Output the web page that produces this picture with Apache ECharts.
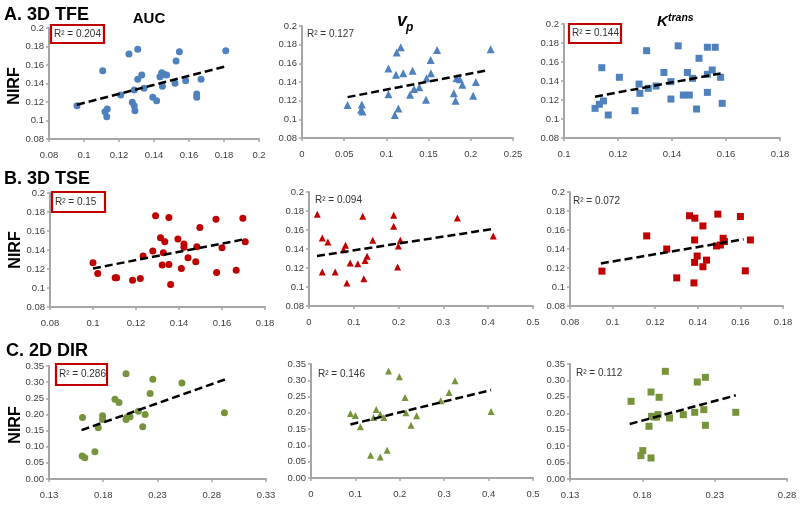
<!DOCTYPE html>
<html>
<head>
<meta charset="utf-8">
<script src="https://cdn.jsdelivr.net/npm/echarts@6/dist/echarts.min.js"></script>
<style>
html,body{margin:0;padding:0;background:#fff;}
#chart{width:800px;height:506px;}
</style>
</head>
<body>
<div id="chart"></div>
<script>
// ---------- Data ----------
// Row A: 3D TFE (NIRF vs AUC, vp, Ktrans)
const tfeAUC = [[0.096,0.116],[0.1107,0.1538],[0.112,0.1095],[0.1133,0.1124],[0.113,0.1041],[0.121,0.1276],[0.1257,0.1719],[0.1307,0.177],[0.1276,0.1196],[0.1287,0.116],[0.1291,0.1106],[0.1287,0.133],[0.1307,0.1445],[0.133,0.1492],[0.1343,0.1348],[0.1393,0.1251],[0.1415,0.1214],[0.1434,0.1474],[0.1444,0.1517],[0.1457,0.15],[0.1472,0.1492],[0.1448,0.137],[0.152,0.1402],[0.1526,0.1643],[0.1545,0.1744],[0.1581,0.143],[0.1669,0.1445],[0.1644,0.1287],[0.1644,0.1251],[0.181,0.1755]];
const tfeVp = [[0.0539,0.1153],[0.0709,0.116],[0.070,0.1103],[0.0717,0.1085],[0.1024,0.1544],[0.1024,0.127],[0.1114,0.1477],[0.1122,0.1715],[0.117,0.1772],[0.110,0.1046],[0.1142,0.1117],[0.120,0.1495],[0.128,0.1263],[0.131,0.152],[0.1327,0.1324],[0.139,0.1345],[0.1469,0.121],[0.1476,0.1441],[0.1524,0.1637],[0.1528,0.1494],[0.160,0.1744],[0.1799,0.128],[0.1819,0.120],[0.1831,0.1441],[0.187,0.143],[0.190,0.137],[0.2028,0.1253],[0.206,0.140],[0.2236,0.175]];
const tfeKtrans = [[0.1115,0.1112],[0.1131,0.1155],[0.1146,0.119],[0.114,0.154],[0.1164,0.1042],[0.1205,0.1439],[0.1263,0.1087],[0.1278,0.1368],[0.1281,0.127],[0.1306,0.1719],[0.1312,0.1323],[0.1341,0.1347],[0.137,0.149],[0.1396,0.1393],[0.1396,0.121],[0.1423,0.177],[0.1442,0.1252],[0.1457,0.149],[0.1464,0.1252],[0.1476,0.1428],[0.1491,0.1105],[0.150,0.1639],[0.1531,0.128],[0.1531,0.147],[0.1531,0.1755],[0.1549,0.1516],[0.156,0.1755],[0.158,0.1439],[0.1586,0.1165]];
// Row B: 3D TSE
const tseAUC = [[0.1,0.1266],[0.1022,0.1153],[0.1103,0.1107],[0.111,0.1107],[0.1184,0.1082],[0.122,0.110],[0.1233,0.1336],[0.1278,0.139],[0.1291,0.176],[0.1314,0.153],[0.1322,0.1241],[0.1327,0.1372],[0.1334,0.1488],[0.1353,0.1742],[0.1353,0.1248],[0.1361,0.1037],[0.1395,0.1517],[0.1411,0.1206],[0.1423,0.1464],[0.1423,0.1428],[0.1442,0.1319],[0.1478,0.1277],[0.1483,0.1435],[0.1497,0.1636],[0.1572,0.1725],[0.1575,0.1164],[0.16,0.1425],[0.1666,0.1188],[0.1697,0.1735],[0.1708,0.1488]];
const tseVp = [[0.0185,0.1765],[0.0296,0.1516],[0.0296,0.1158],[0.0422,0.1474],[0.0585,0.1158],[0.077,0.1393],[0.0815,0.1439],[0.0845,0.1042],[0.0919,0.1253],[0.1089,0.1246],[0.12,0.1744],[0.1223,0.1088],[0.1252,0.128],[0.1297,0.1323],[0.1423,0.1491],[0.189,0.1754],[0.189,0.1639],[0.1978,0.121],[0.1993,0.1432],[0.2038,0.1491],[0.3312,0.1726],[0.4113,0.1537]];
const tseKtrans = [[0.095,0.1167],[0.116,0.1538],[0.1254,0.14],[0.1301,0.1096],[0.1361,0.175],[0.1386,0.1725],[0.1385,0.1495],[0.1385,0.1259],[0.1382,0.1043],[0.1397,0.1326],[0.1424,0.1643],[0.1424,0.1213],[0.1441,0.1283],[0.1494,0.1767],[0.1488,0.1432],[0.1506,0.1442],[0.1519,0.1513],[0.1525,0.1478],[0.16,0.1742],[0.1623,0.117],[0.1647,0.1495]];
// Row C: 2D DIR
const dirAUC = [[0.1609,0.1905],[0.1606,0.071],[0.163,0.066],[0.1723,0.0845],[0.1754,0.1586],[0.1794,0.1956],[0.1794,0.1843],[0.1908,0.247],[0.1945,0.2368],[0.201,0.3263],[0.2016,0.1905],[0.201,0.1843],[0.2047,0.1926],[0.2124,0.21],[0.2164,0.1617],[0.2186,0.1998],[0.2232,0.2646],[0.2257,0.3088],[0.2525,0.2975],[0.2917,0.2049]];
const dirVp = [[0.0888,0.1981],[0.1,0.192],[0.1112,0.1571],[0.1343,0.0699],[0.141,0.1858],[0.1469,0.2105],[0.1559,0.0648],[0.1715,0.0853],[0.1559,0.196],[0.1641,0.1858],[0.1745,0.3285],[0.1991,0.311],[0.2118,0.2474],[0.214,0.2002],[0.2252,0.1622],[0.2379,0.191],[0.2923,0.2371],[0.3109,0.2628],[0.3243,0.2987],[0.4055,0.2043]];
const dirKtrans = [[0.1722,0.2364],[0.179,0.0711],[0.1803,0.0864],[0.186,0.064],[0.1846,0.1604],[0.186,0.2648],[0.1864,0.1908],[0.1882,0.1888],[0.1898,0.1888],[0.1909,0.1959],[0.1916,0.2486],[0.1959,0.3277],[0.1988,0.1857],[0.2083,0.1959],[0.2162,0.203],[0.218,0.2952],[0.2225,0.2111],[0.2236,0.3094],[0.2236,0.1634],[0.2446,0.203]];

// Trend lines (end points)
const trendTfeAUC = [[0.096,0.117],[0.181,0.1585]];
const trendTfeVp = [[0.054,0.1238],[0.2185,0.1523]];
const trendTfeKtrans = [[0.1115,0.1235],[0.158,0.148]];
const trendTseAUC = [[0.1,0.1206],[0.171,0.1516]];
const trendTseVp = [[0.0178,0.1326],[0.415,0.1614]];
const trendTseKtrans = [[0.0945,0.1248],[0.1615,0.1502]];
const trendDirAUC = [[0.16,0.1514],[0.2926,0.3088]];
const trendDirVp = [[0.0888,0.1643],[0.4055,0.27]];
const trendDirKtrans = [[0.1713,0.1675],[0.2446,0.2547]];

// R² values
const r2Values = ['0.204','0.127','0.144','0.15','0.094','0.072','0.286','0.146','0.112'];

// Tick labels
const xTicksTfeAUC = [0.08,0.1,0.12,0.14,0.16,0.18,0.2];
const xTicksTfeVp = [0,0.05,0.1,0.15,0.2,0.25];
const xTicksTfeKtrans = [0.1,0.12,0.14,0.16,0.18];
const xTicksTseAUC = [0.08,0.1,0.12,0.14,0.16,0.18];
const xTicksTseVp = [0,0.1,0.2,0.3,0.4,0.5];
const xTicksTseKtrans = [0.08,0.1,0.12,0.14,0.16,0.18];
const xTicksDirAUC = [0.13,0.18,0.23,0.28,0.33];
const xTicksDirVp = [0,0.1,0.2,0.3,0.4,0.5];
const xTicksDirKtrans = [0.13,0.18,0.23,0.28];
const yTicksAB = [0.08,0.1,0.12,0.14,0.16,0.18,0.2];
const yTicksC = [0,0.05,0.1,0.15,0.2,0.25,0.3,0.35];

// ---------- Styling / layout ----------
const BLUE = '#4f81bd', RED = '#c00000', GREEN = '#77933c';
const AXIS_COLOR = '#a6a6a6', LABEL_COLOR = '#404040';
const FONT = '"Liberation Sans", Arial, sans-serif';

const panels = [
  {data: tfeAUC, trend: trendTfeAUC, xt: xTicksTfeAUC, yt: yTicksAB, sym:'circle', size:7, color:BLUE, yFix:false, xFix:false, grid:{left:49,top:28,width:210,height:111}, r2:{x:51,y:25,w:53,h:18,box:true}},
  {data: tfeVp, trend: trendTfeVp, xt: xTicksTfeVp, yt: yTicksAB, sym:'triangle', size:8, color:BLUE, yFix:false, xFix:false, grid:{left:302,top:26,width:211,height:112}, r2:{x:304,y:25,w:53,h:18,box:false}},
  {data: tfeKtrans, trend: trendTfeKtrans, xt: xTicksTfeKtrans, yt: yTicksAB, sym:'rect', size:7, color:BLUE, yFix:false, xFix:false, grid:{left:564,top:24,width:216,height:114}, r2:{x:569,y:24,w:52,h:19,box:true}},
  {data: tseAUC, trend: trendTseAUC, xt: xTicksTseAUC, yt: yTicksAB, sym:'circle', size:7, color:RED, yFix:false, xFix:false, grid:{left:50,top:193,width:215,height:114}, r2:{x:52,y:192,w:53,h:20,box:true}},
  {data: tseVp, trend: trendTseVp, xt: xTicksTseVp, yt: yTicksAB, sym:'triangle', size:7, color:RED, yFix:false, xFix:false, grid:{left:309,top:192,width:224,height:114}, r2:{x:312,y:191,w:53,h:19,box:false}},
  {data: tseKtrans, trend: trendTseKtrans, xt: xTicksTseKtrans, yt: yTicksAB, sym:'rect', size:7, color:RED, yFix:false, xFix:false, grid:{left:570,top:192,width:213,height:114}, r2:{x:570,y:192,w:53,h:19,box:false}},
  {data: dirAUC, trend: trendDirAUC, xt: xTicksDirAUC, yt: yTicksC, sym:'circle', size:7, color:GREEN, yFix:true, xFix:true, grid:{left:49,top:366,width:217,height:113}, r2:{x:56,y:364,w:51,h:21,box:true}},
  {data: dirVp, trend: trendDirVp, xt: xTicksDirVp, yt: yTicksC, sym:'triangle', size:7, color:GREEN, yFix:true, xFix:false, grid:{left:311,top:364,width:222,height:114}, r2:{x:315,y:364,w:53,h:20,box:false}},
  {data: dirKtrans, trend: trendDirKtrans, xt: xTicksDirKtrans, yt: yTicksC, sym:'rect', size:7, color:GREEN, yFix:true, xFix:true, grid:{left:570,top:364,width:217,height:115}, r2:{x:573,y:363,w:53,h:20,box:false}}
];

function fmtDefault(v){ return String(+v.toFixed(4)); }
function fmtFixed(v){ return v.toFixed(2); }

const grids = [], xAxes = [], yAxes = [], series = [], graphics = [];
panels.forEach((p, i) => {
  grids.push(Object.assign({containLabel:false}, p.grid));
  xAxes.push({
    type:'value', gridIndex:i, min:p.xt[0], max:p.xt[p.xt.length-1],
    axisLine:{show:true, onZero:false, lineStyle:{color:AXIS_COLOR, width:2}},
    axisTick:{show:true, inside:false, length:3, customValues:p.xt, lineStyle:{color:AXIS_COLOR, width:1.5}},
    axisLabel:{customValues:p.xt, margin:11, fontSize:9.5, fontFamily:FONT, color:LABEL_COLOR,
      formatter: p.xFix ? fmtFixed : fmtDefault},
    splitLine:{show:false}
  });
  yAxes.push({
    type:'value', gridIndex:i, min:p.yt[0], max:p.yt[p.yt.length-1],
    axisLine:{show:true, onZero:false, lineStyle:{color:AXIS_COLOR, width:2}},
    axisTick:{show:true, inside:false, length:3, customValues:p.yt, lineStyle:{color:AXIS_COLOR, width:1.5}},
    axisLabel:{customValues:p.yt, margin:5, fontSize:9.5, fontFamily:FONT, color:LABEL_COLOR,
      formatter: p.yFix ? fmtFixed : fmtDefault},
    splitLine:{show:false}
  });
  series.push({
    type:'scatter', xAxisIndex:i, yAxisIndex:i, data:p.data,
    symbol:p.sym, symbolSize:p.size, itemStyle:{color:p.color, opacity:1}, z:2
  });
  series.push({
    type:'line', xAxisIndex:i, yAxisIndex:i, data:p.trend, showSymbol:false, symbol:'none',
    lineStyle:{color:'#000', width:2.5, type:[8,4]}, z:3, silent:true
  });
  // R² label
  const r = p.r2;
  if (r.box) {
    graphics.push({type:'rect', shape:{x:r.x, y:r.y, width:r.w, height:r.h},
      style:{fill:'#fff', stroke:'#c00000', lineWidth:2.2}, z:10});
  }
  graphics.push({type:'text', x:r.x + 3, y:r.y + r.h/2, z:11,
    style:{text:'R\u00b2 = ' + r2Values[i], font:'10px ' + FONT, fill:'#333',
      textAlign:'left', textVerticalAlign:'middle'}});
});

// Row titles, column titles, axis names
const boldFont = (s) => 'bold ' + s + 'px ' + FONT;
graphics.push(
  {type:'text', x:4, y:15, style:{text:'A. 3D TFE', font:boldFont(18), fill:'#000', textVerticalAlign:'middle'}},
  {type:'text', x:4, y:179, style:{text:'B. 3D TSE', font:boldFont(18), fill:'#000', textVerticalAlign:'middle'}},
  {type:'text', x:6, y:351, style:{text:'C. 2D DIR', font:boldFont(18), fill:'#000', textVerticalAlign:'middle'}},
  {type:'text', x:149, y:19, style:{text:'AUC', font:boldFont(15), fill:'#000', textAlign:'center', textVerticalAlign:'middle'}},
  {type:'text', x:397, y:21, style:{text:'v', font:'italic ' + boldFont(18), fill:'#000', textAlign:'left', textVerticalAlign:'middle'}},
  {type:'text', x:406, y:28, style:{text:'p', font:'italic ' + boldFont(12), fill:'#000', textAlign:'left', textVerticalAlign:'middle'}},
  {type:'text', x:657, y:22, style:{text:'K', font:'italic ' + boldFont(15), fill:'#000', textAlign:'left', textVerticalAlign:'middle'}},
  {type:'text', x:668, y:18, style:{text:'trans', font:'italic ' + boldFont(10.5), fill:'#000', textAlign:'left', textVerticalAlign:'middle'}},
  {type:'text', x:15, y:86, rotation:Math.PI/2, style:{text:'NIRF', font:boldFont(16), fill:'#000', textAlign:'center', textVerticalAlign:'middle'}},
  {type:'text', x:16, y:250, rotation:Math.PI/2, style:{text:'NIRF', font:boldFont(16), fill:'#000', textAlign:'center', textVerticalAlign:'middle'}},
  {type:'text', x:16, y:425, rotation:Math.PI/2, style:{text:'NIRF', font:boldFont(16), fill:'#000', textAlign:'center', textVerticalAlign:'middle'}}
);

const chart = echarts.init(document.getElementById('chart'), null, {renderer:'canvas'});
chart.setOption({
  backgroundColor:'#fff',
  animation:false,
  grid:grids, xAxis:xAxes, yAxis:yAxes, series:series, graphic:graphics
});
</script>
</body>
</html>
